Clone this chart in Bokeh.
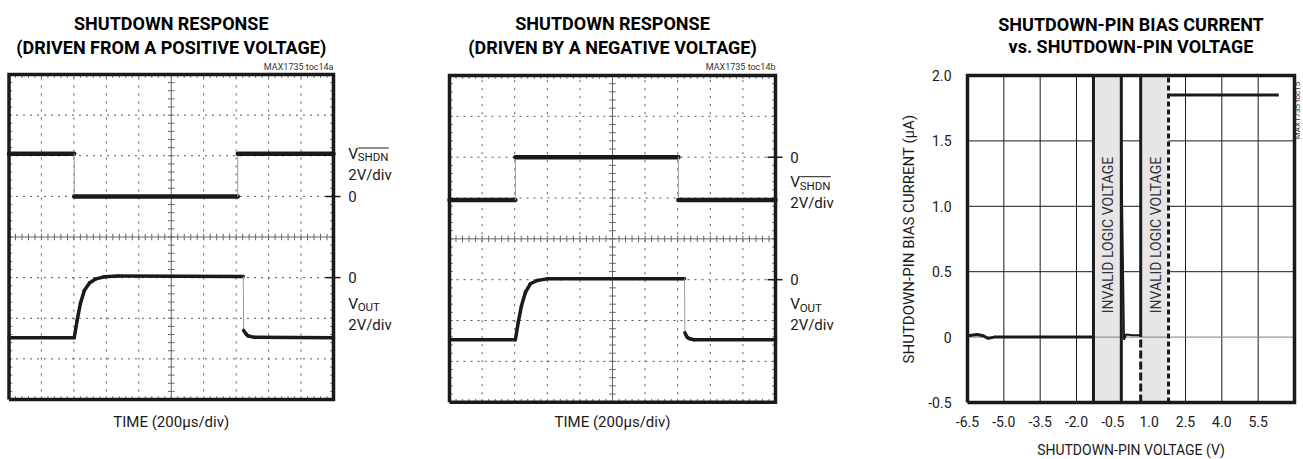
import numpy as np
from bokeh.plotting import figure
from bokeh.layouts import row
from bokeh.models import Range1d
from bokeh.core.properties import value
from bokeh.embed import file_html
from bokeh.resources import INLINE

FONT = "Roboto"
INK = "#1a1a1a"

# ---------------- data: scope captures (time in µs, voltage in V) ----------------
TIME_PER_DIV = 200.0   # µs/div
VOLT_PER_DIV = 2.0     # V/div

# panel 1 : driven from a positive voltage
P1_SHDN_T = [0, 402, 402, 1410, 1410, 2000]
P1_SHDN_V = [2.1, 2.1, 0.0, 0.0, 2.1, 2.1]
P1_VOUT_T = [0, 402, 420, 440, 464, 496, 536, 588, 670, 1444, 1446, 1460, 1472, 1512, 2000]
P1_VOUT_V = [-2.96, -2.96, -2.1, -1.28, -0.64, -0.26, -0.06, 0.04, 0.08, 0.05,
             -2.6, -2.76, -2.86, -2.94, -2.96]

# panel 2 : driven by a negative voltage
P2_SHDN_T = [0, 404, 404, 1404, 1404, 2000]
P2_SHDN_V = [-2.1, -2.1, 0.0, 0.0, -2.1, -2.1]
P2_VOUT_T = [0, 404, 422, 442, 466, 496, 538, 598, 680, 1442, 1444, 1458, 1470, 1500, 2000]
P2_VOUT_V = [-2.94, -2.94, -2.08, -1.26, -0.62, -0.2, -0.04, 0.04, 0.05, 0.04,
             -2.6, -2.82, -2.88, -2.94, -2.94]

# ---------------- data: bias current vs shutdown-pin voltage ----------------
BAND_START = [-1.3, 0.65]
BAND_END = [-0.15, 1.8]
CURVE_A_V = [-6.5, -6.1, -5.85, -5.65, -5.4, -1.3]
CURVE_A_I = [0.01, 0.02, 0.01, -0.01, 0.0, 0.0]
CURVE_B_V = [-0.16, -0.04, 0.05, 0.3, 0.65]
CURVE_B_I = [1.6, -0.02, 0.02, 0.015, 0.015]
CURVE_C_V = [1.8, 6.35]
CURVE_C_I = [1.85, 1.85]
X_TICKS = [-6.5, -5.0, -3.5, -2.0, -0.5, 1.0, 2.5, 4.0, 5.5]
Y_TICKS = [-0.5, 0.0, 0.5, 1.0, 1.5, 2.0]
X_MIN, X_MAX = -6.5, 7.0
Y_MIN, Y_MAX = -0.5, 2.0

H = 458


def canvas(fl, W, px0, px1, dx0, dx1, py_top, py_bot, dy_top, dy_bot):
    """Figure whose frame is the whole canvas; page rect (px0..px1, py_top..py_bot) <-> data."""
    pxx = (px1 - px0) / (dx1 - dx0)
    pxy = (py_bot - py_top) / (dy_top - dy_bot)
    xr = Range1d(dx0 - (px0 - fl) / pxx, dx0 + (fl + W - px0) / pxx)
    yr = Range1d(dy_top - (H - py_top) / pxy, dy_top + py_top / pxy)
    p = figure(width=W, height=H, x_range=xr, y_range=yr,
               x_axis_location=None, y_axis_location=None,
               toolbar_location=None, output_backend="svg", min_border=0)
    p.outline_line_color = None
    p.grid.visible = False
    X = lambda px: dx0 + (px - px0) / pxx
    Y = lambda py: dy_top - (py - py_top) / pxy
    return p, X, Y


def text(p, x, y, s, size, align="left", bold=False, color=INK, angle=0.0):
    p.text(x=[x], y=[y], text=[s], text_font=value(FONT), text_font_size=size,
           text_align=align, text_baseline="middle", text_color=color, angle=angle,
           text_font_style="bold" if bold else "normal")


def scope_panel(fl, box, shdn_t, shdn_v, vout_t, vout_v, shdn_zero, vout_zero, titles, tag, lab):
    left, right, top, bottom = box
    p, X, Y = canvas(fl, 440, left, right, 0, 10, top, bottom, 8, 0)

    # dotted graticule
    vx = [i for i in range(1, 10) if i != 5]
    p.segment(x0=vx, y0=[0] * len(vx), x1=vx, y1=[8] * len(vx),
              line_color="#555555", line_width=1, line_dash="2 6")
    hy = [j for j in range(1, 8) if j != 4]
    p.segment(x0=[0] * len(hy), y0=hy, x1=[10] * len(hy), y1=hy,
              line_color="#555555", line_width=1, line_dash="2 5")
    # centre cross with minor ticks
    p.segment(x0=[5, 0], y0=[0, 4], x1=[5, 10], y1=[8, 4], line_color="#666666", line_width=1)
    ty = np.arange(0.2, 8.0, 0.2)
    tx = np.arange(0.2, 10.0, 0.2)
    p.segment(x0=5 - 0.1, y0=ty, x1=5 + 0.1, y1=ty, line_color="#666666", line_width=1)
    p.segment(x0=tx, y0=4 - 0.08, x1=tx, y1=4 + 0.08, line_color="#666666", line_width=1)
    # border ticks
    p.segment(x0=tx, y0=8, x1=tx, y1=8 - 0.08, line_color="#666666", line_width=1)
    p.segment(x0=tx, y0=0, x1=tx, y1=0.08, line_color="#666666", line_width=1)
    p.segment(x0=0, y0=ty, x1=0.1, y1=ty, line_color="#666666", line_width=1)
    p.segment(x0=10, y0=ty, x1=10 - 0.1, y1=ty, line_color="#666666", line_width=1)

    # traces
    for tt, vv, zero, thick in ((shdn_t, shdn_v, shdn_zero, 4.5), (vout_t, vout_v, vout_zero, 3.5)):
        xs = np.array(tt) / TIME_PER_DIV
        ys = zero + np.array(vv) / VOLT_PER_DIV
        dt = np.diff(np.array(tt, dtype=float))
        widths = [thick if d >= 5 else 1 for d in dt]
        colors = [INK if d >= 5 else "#9a9a9a" for d in dt]
        p.segment(x0=xs[:-1], y0=ys[:-1], x1=xs[1:], y1=ys[1:],
                  line_width=widths, line_color=colors, line_cap="round")

    # screen border
    p.line(x=[0, 10, 10, 0, 0], y=[0, 0, 8, 8, 0], line_color=INK, line_width=3.5,
           line_join="miter")

    # channel markers and labels
    lx = right + 14.7
    for zero in (shdn_zero, vout_zero):
        p.segment(x0=[X(right - 8)], y0=[zero], x1=[X(right + 7)], y1=[zero],
                  line_color=INK, line_width=1.5)
        text(p, X(lx), zero, "0", "15px")
    sx = lx + 9.5
    # V_SHDN
    text(p, X(lx), Y(lab["sv"]), "V", "15.5px")
    text(p, X(sx), Y(lab["sv"] + 3.5), "SHDN", "11.5px")
    p.segment(x0=[X(sx + 0.5)], y0=[Y(lab["sv"] - 5.5)], x1=[X(sx + 31)], y1=[Y(lab["sv"] - 5.5)],
              line_color=INK, line_width=1)
    text(p, X(lx), Y(lab["sd"]), "2V/div", "15px")
    # V_OUT
    text(p, X(lx), Y(lab["ov"]), "V", "15.5px")
    text(p, X(sx), Y(lab["ov"] + 3.5), "OUT", "11.5px")
    text(p, X(lx), Y(lab["od"]), "2V/div", "15px")

    # titles & captions
    cx = (left + right) / 2.0
    text(p, X(cx), Y(22.7), titles[0], "18px", align="center", bold=True, color="black")
    text(p, X(cx), Y(46.5), titles[1], "18px", align="center", bold=True, color="black")
    text(p, X(right), Y(66.5), tag, "9px", align="right", color="#333333")
    text(p, X(cx), Y(421.5), "TIME (200µs/div)", "15px", align="center")
    return p


p1 = scope_panel(0, (8.5, 333.0, 74.0, 399.0), P1_SHDN_T, P1_SHDN_V, P1_VOUT_T, P1_VOUT_V,
                 5.0, 3.0, ("SHUTDOWN RESPONSE", "(DRIVEN FROM A POSITIVE VOLTAGE)"),
                 "MAX1735 toc14a", dict(sv=153.0, sd=174.0, ov=303.3, od=324.0))
p2 = scope_panel(440, (449.0, 775.0, 75.0, 401.7), P2_SHDN_T, P2_SHDN_V, P2_VOUT_T, P2_VOUT_V,
                 6.0, 3.0, ("SHUTDOWN RESPONSE", "(DRIVEN BY A NEGATIVE VOLTAGE)"),
                 "MAX1735 toc14b", dict(sv=181.7, sd=202.5, ov=303.8, od=324.7))

# ---------------- third chart ----------------
p3, X3, Y3 = canvas(880, 422, 967.0, 1294.0, X_MIN, X_MAX, 75.0, 402.0, Y_MAX, Y_MIN)

# bands
p3.quad(left=BAND_START, right=BAND_END, bottom=Y_MIN, top=Y_MAX, fill_color="#e6e6e6",
        line_color=None, level="underlay")
# grid
gx = [t for t in X_TICKS if t > X_MIN]
p3.segment(x0=gx, y0=Y_MIN, x1=gx, y1=Y_MAX, line_color=INK, line_width=1, level="underlay")
gy = [t for t in Y_TICKS if Y_MIN < t < Y_MAX and t != 0]
p3.segment(x0=X_MIN, y0=gy, x1=X_MAX, y1=gy, line_color=INK, line_width=1, level="underlay")
# re-cover grid within bands
p3.quad(left=BAND_START, right=BAND_END, bottom=Y_MIN, top=Y_MAX, fill_color="#e6e6e6",
        line_color=None)
p3.segment(x0=[X_MIN], y0=[0.0], x1=[X_MAX], y1=[0.0], line_color="#808080", line_width=1)
# band edges
p3.segment(x0=[BAND_START[0], BAND_END[0], BAND_START[1]], y0=[Y_MIN, Y_MIN, 0.0],
           x1=[BAND_START[0], BAND_END[0], BAND_START[1]], y1=[Y_MAX, Y_MAX, Y_MAX],
           line_color=INK, line_width=3)
p3.segment(x0=[BAND_START[1]], y0=[Y_MIN], x1=[BAND_START[1]], y1=[0.0],
           line_color=INK, line_width=3, line_dash="8 3")
p3.segment(x0=[BAND_END[1]], y0=[Y_MIN], x1=[BAND_END[1]], y1=[Y_MAX],
           line_color=INK, line_width=3, line_dash="5 3")
# curve
p3.line(CURVE_A_V, CURVE_A_I, line_color=INK, line_width=3)
p3.line(CURVE_B_V, CURVE_B_I, line_color=INK, line_width=2)
p3.line(CURVE_C_V, CURVE_C_I, line_color=INK, line_width=3)
# frame
p3.line(x=[X_MIN, X_MAX, X_MAX, X_MIN, X_MIN], y=[Y_MIN, Y_MIN, Y_MAX, Y_MAX, Y_MIN],
        line_color=INK, line_width=3.5, line_join="miter")
# band texts
for a, b in zip(BAND_START, BAND_END):
    text(p3, (a + b) / 2 + 0.04, 0.78, "INVALID LOGIC VOLTAGE", "14px", align="center",
         color="#333333", angle=np.pi / 2)
# tick labels
p3.text(x=X_TICKS, y=[Y3(420.5)] * len(X_TICKS), text=[f"{t:.1f}" for t in X_TICKS],
        text_font=value(FONT), text_font_size="14px", text_align="center",
        text_baseline="middle", text_color=INK)
p3.text(x=[X3(951.0)] * len(Y_TICKS), y=Y_TICKS,
        text=["0" if t == 0 else f"{t:.1f}" for t in Y_TICKS],
        text_font=value(FONT), text_font_size="14px", text_align="right",
        text_baseline="middle", text_color=INK)
# axis titles
text(p3, (X_MIN + X_MAX) / 2, Y3(449.0), "SHUTDOWN-PIN VOLTAGE (V)", "14px", align="center")
text(p3, X3(908.0), (Y_MIN + Y_MAX) / 2, "SHUTDOWN-PIN BIAS CURRENT (µA)", "15px",
     align="center", angle=np.pi / 2)
# chart title and tag
text(p3, (X_MIN + X_MAX) / 2, Y3(23.7), "SHUTDOWN-PIN BIAS CURRENT", "18px", align="center",
     bold=True, color="black")
text(p3, (X_MIN + X_MAX) / 2, Y3(45.5), "vs. SHUTDOWN-PIN VOLTAGE", "18px", align="center",
     bold=True, color="black")
text(p3, X3(1297.0), Y3(110.0), "MAX1735 toc15", "8px", align="center", color="#333333",
     angle=np.pi / 2)

layout = row(p1, p2, p3)
open("out.html", "w").write(file_html(layout, INLINE))
